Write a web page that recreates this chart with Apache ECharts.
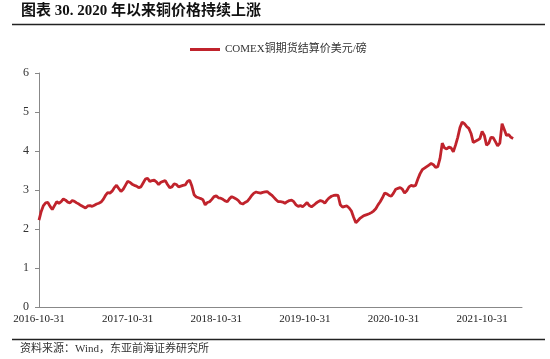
<!DOCTYPE html>
<html>
<head>
<meta charset="utf-8">
<script src="https://cdn.jsdelivr.net/npm/echarts@6/dist/echarts.min.js"></script>
<style>
html,body{margin:0;padding:0;background:#fff;}
#c{width:550px;height:359px;}
</style>
</head>
<body>
<div id="c"></div>
<script>
// Tick labels shown along the x axis (one every 40 sample points)
var tickLabels = ['2016-10-31','2017-10-31','2018-10-31','2019-10-31','2020-10-31','2021-10-31'];
var pointsPerLabel = 40;
var axisPoints = 218; // last sample position on the axis
// COMEX copper settlement price, USD/lb, sampled evenly along the axis
var copperValues = [
2.23,2.45,2.60,2.67,2.68,2.58,2.50,2.60,2.70,2.66,
2.70,2.77,2.74,2.69,2.67,2.73,2.71,2.67,2.64,2.60,
2.57,2.54,2.59,2.60,2.58,2.61,2.64,2.66,2.69,2.76,
2.86,2.93,2.92,2.97,3.06,3.12,3.04,2.96,3.02,3.12,
3.22,3.20,3.15,3.12,3.10,3.06,3.08,3.18,3.28,3.30,
3.22,3.24,3.25,3.21,3.14,3.20,3.22,3.24,3.14,3.06,
3.08,3.16,3.14,3.08,3.10,3.12,3.13,3.22,3.25,3.10,
2.88,2.82,2.80,2.78,2.75,2.62,2.68,2.70,2.76,2.83,
2.85,2.80,2.79,2.76,2.72,2.70,2.78,2.83,2.80,2.77,
2.73,2.66,2.64,2.68,2.71,2.78,2.86,2.92,2.95,2.93,
2.92,2.94,2.95,2.96,2.91,2.87,2.81,2.75,2.70,2.70,
2.69,2.66,2.70,2.73,2.74,2.70,2.62,2.58,2.60,2.57,
2.62,2.68,2.60,2.57,2.61,2.66,2.70,2.73,2.71,2.66,
2.74,2.80,2.84,2.86,2.87,2.86,2.62,2.56,2.58,2.59,
2.54,2.46,2.30,2.16,2.22,2.28,2.32,2.35,2.37,2.39,
2.42,2.46,2.52,2.62,2.70,2.80,2.92,2.90,2.86,2.84,
2.92,3.02,3.04,3.06,3.02,2.92,2.98,3.08,3.12,3.10,
3.12,3.28,3.42,3.52,3.56,3.60,3.64,3.68,3.65,3.58,
3.60,3.81,4.20,4.08,4.05,4.10,4.08,3.98,4.15,4.35,
4.60,4.74,4.70,4.63,4.58,4.45,4.22,4.25,4.28,4.32,
4.50,4.40,4.15,4.20,4.35,4.34,4.24,4.13,4.20,4.70,
4.55,4.40,4.42,4.35,4.32
];
var seriesName = 'COMEX铜期货结算价美元/磅';

var seriesData = copperValues.map(function(v, i){ return [i, v]; });

var serif = '"Liberation Serif","Noto Sans CJK SC",serif';
var chart = echarts.init(document.getElementById('c'), null, {renderer:'canvas'});
chart.setOption({
  animation: false,
  backgroundColor: '#fff',
  grid: {left: 39, right: 28, top: 73, bottom: 52},
  legend: {
    data: [seriesName],
    left: 185, top: 39,
    icon: 'rect', itemWidth: 30, itemHeight: 3, itemGap: 2,
    textStyle: {fontFamily: serif, fontSize: 11, color: '#333'}
  },
  xAxis: {
    type: 'value', min: 0, max: axisPoints, interval: pointsPerLabel,
    splitLine: {show: false},
    axisLine: {lineStyle: {color: '#888', width: 1}},
    axisTick: {show: false},
    axisLabel: {
      margin: 7, fontFamily: serif, fontSize: 11, color: '#222',
      showMaxLabel: false,
      formatter: function(v){
        var k = v / pointsPerLabel;
        return (Math.round(k) === k && tickLabels[k]) ? tickLabels[k] : '';
      }
    }
  },
  yAxis: {
    type: 'value', min: 0, max: 6, interval: 1,
    splitLine: {show: false},
    axisLine: {show: true, lineStyle: {color: '#888', width: 1}},
    axisTick: {show: true, length: 4, lineStyle: {color: '#888'}},
    axisLabel: {margin: 10, fontFamily: serif, fontSize: 12, color: '#333'}
  },
  series: [{
    name: seriesName, type: 'line', data: seriesData,
    showSymbol: false, symbol: 'none',
    lineStyle: {color: '#C0232C', width: 2.8},
    itemStyle: {color: '#C0232C'}
  }],
  graphic: [
    {type: 'text', left: 21, top: 4, style: {text: '图表 30. 2020 年以来铜价格持续上涨', font: 'bold 15px ' + serif, fill: '#111'}},
    {type: 'line', shape: {x1: 12, y1: 24.5, x2: 545, y2: 24.5}, style: {stroke: '#222', lineWidth: 1.5}},
    {type: 'line', shape: {x1: 12, y1: 339.5, x2: 545, y2: 339.5}, style: {stroke: '#222', lineWidth: 1.5}},
    {type: 'text', left: 20, top: 344, style: {text: '资料来源：Wind，东亚前海证券研究所', font: '11px ' + serif, fill: '#333'}}
  ]
});
</script>
</body>
</html>
